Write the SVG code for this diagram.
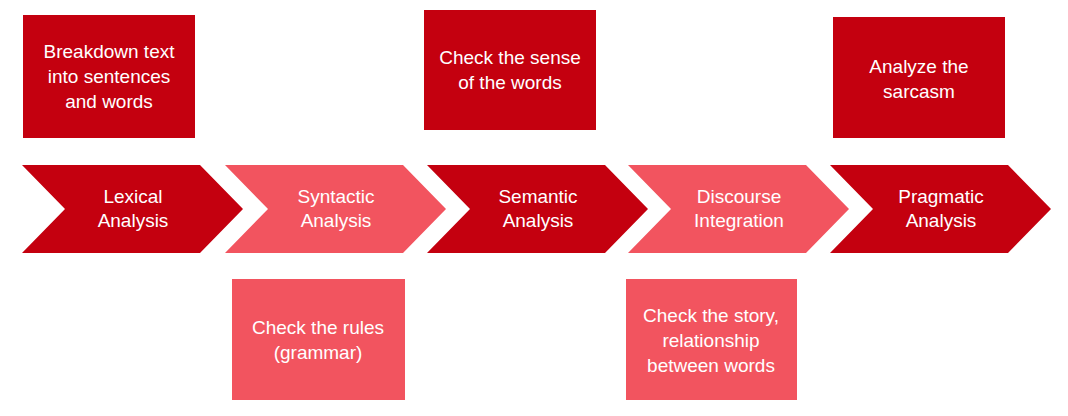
<svg xmlns="http://www.w3.org/2000/svg" width="1068" height="416" viewBox="0 0 1068 416">
<style>
.d{fill:#c4000f}.l{fill:#f2545f}
text{font-family:"Liberation Sans",Arial,sans-serif;font-size:19px;fill:#fff;text-anchor:middle}
</style>
<defs><path id="ch" d="M0 0H178L221 44L178 88H0L43 44Z"/></defs>
<rect width="1068" height="416" fill="#fff"/>
<g id="connectors"></g>
<g id="lexical"><use href="#ch" x="22" y="165" class="d"/><text x="133" y="203">Lexical</text><text x="133" y="227">Analysis</text></g>
<g id="syntactic"><use href="#ch" x="225" y="165" class="l"/><text x="336" y="203">Syntactic</text><text x="336" y="227">Analysis</text></g>
<g id="semantic"><use href="#ch" x="427" y="165" class="d"/><text x="538" y="203">Semantic</text><text x="538" y="227">Analysis</text></g>
<g id="discourse"><use href="#ch" x="628" y="165" class="l"/><text x="739" y="203">Discourse</text><text x="739" y="227">Integration</text></g>
<g id="pragmatic"><use href="#ch" x="830" y="165" class="d"/><text x="941" y="203">Pragmatic</text><text x="941" y="227">Analysis</text></g>
<g id="note1"><rect x="23" y="15" width="172" height="123" class="d"/><text x="109" y="58">Breakdown text</text><text x="109" y="83">into sentences</text><text x="109" y="108">and words</text></g>
<g id="note3"><rect x="424" y="10" width="172" height="120" class="d"/><text x="510" y="64">Check the sense</text><text x="510" y="89">of the words</text></g>
<g id="note5"><rect x="833" y="17" width="172" height="121" class="d"/><text x="919" y="73">Analyze the</text><text x="919" y="98">sarcasm</text></g>
<g id="note2"><rect x="232" y="279" width="173" height="121" class="l"/><text x="318" y="334">Check the rules</text><text x="318" y="359">(grammar)</text></g>
<g id="note4"><rect x="626" y="279" width="171" height="121" class="l"/><text x="711" y="322">Check the story,</text><text x="711" y="347">relationship</text><text x="711" y="372">between words</text></g>
</svg>
